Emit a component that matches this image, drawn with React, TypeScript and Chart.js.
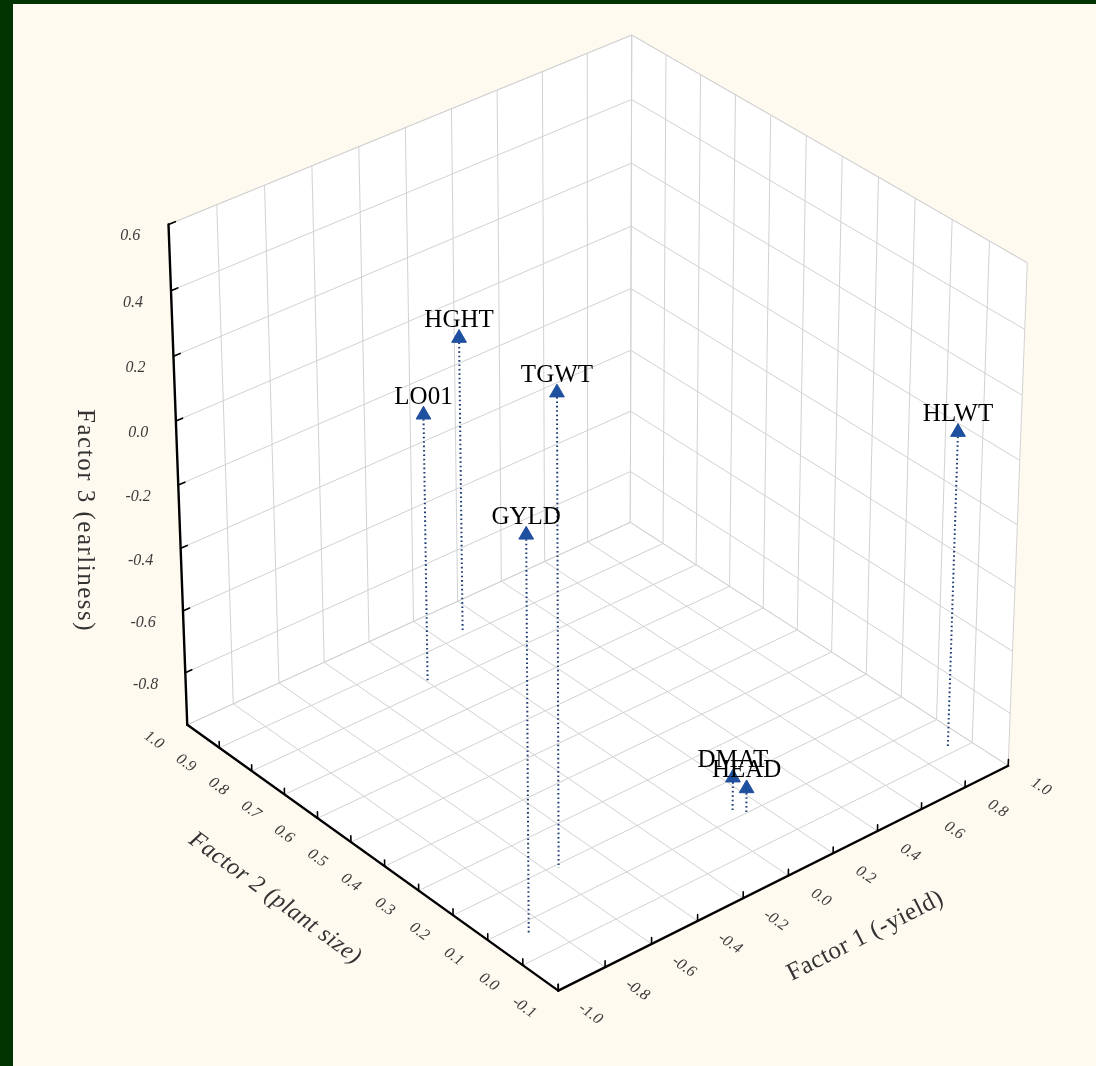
import React, { useEffect, useRef } from "react";
import { Chart, registerables } from "chart.js";

Chart.register(...registerables);

// ---------------- data ----------------
const variables = ["LO01", "HGHT", "TGWT", "GYLD", "HLWT", "DMAT", "HEAD"];
const factor1Values = [-0.2, 0.09, -0.56, -0.87, 0.92, 0.1, 0.13];
const factor2Values = [0.82, 0.91, 0.19, 0.07, 0.02, 0.12, 0.1];
const factor3Values = [-0.11, -0.02, 0.5, 0.26, 0.03, -0.86, -0.89];

const factor1Ticks = [-1.0, -0.8, -0.6, -0.4, -0.2, 0.0, 0.2, 0.4, 0.6, 0.8, 1.0];
const factor2Ticks = [-0.1, 0.0, 0.1, 0.2, 0.3, 0.4, 0.5, 0.6, 0.7, 0.8, 0.9, 1.0];
const factor3Ticks = [-0.8, -0.6, -0.4, -0.2, 0.0, 0.2, 0.4, 0.6];
const factor1Range = [-1.0, 1.0];
const factor2Range = [-0.1, 1.0];
const factor3Range = [-0.97, 0.6];

const factor1Title = "Factor 1 (-yield)";
const factor2Title = "Factor 2 (plant size)";
const factor3Title = "Factor 3 (earliness)";

// ---------------- layout / style ----------------
const PAGE_W = 1096;
const PAGE_H = 1066;
const VIEW = { azimuth: 40, elevation: 32.7, distance: 12, focal: 7150, cx: 596, cy: 500 };
const MARK_COLOR = "#1f4f9f";
const DROP_COLOR = "#1d3b73";
const GRID_COLOR = "#d2d2d2";
const AXIS_COLOR = "#000000";
const TICK_TEXT = "#3c3c3c";
const SERIF = '"Liberation Serif", "DejaVu Serif", serif';

const toRad = (d: number) => (d * Math.PI) / 180;
const cosA = Math.cos(toRad(VIEW.azimuth));
const sinA = Math.sin(toRad(VIEW.azimuth));
const cosE = Math.cos(toRad(VIEW.elevation));
const sinE = Math.sin(toRad(VIEW.elevation));

// perspective projection of normalized box coordinates (0..1 each)
function projectUnit(u: number, v: number, w: number) {
  const X = u - 0.5;
  const Y = v - 0.5;
  const Z = w - 0.5;
  const xc = X * cosA - Y * sinA;
  const h = X * sinA + Y * cosA;
  const yc = Z * cosE + h * sinE;
  const zc = VIEW.distance + h * cosE - Z * sinE;
  return { x: VIEW.cx + (VIEW.focal * xc) / zc, y: VIEW.cy - (VIEW.focal * yc) / zc };
}

const nu = (f1: number) => (f1 - factor1Range[0]) / (factor1Range[1] - factor1Range[0]);
const nv = (f2: number) => (f2 - factor2Range[0]) / (factor2Range[1] - factor2Range[0]);
const nw = (f3: number) => (f3 - factor3Range[0]) / (factor3Range[1] - factor3Range[0]);

function projectData(f1: number, f2: number, f3: number) {
  return projectUnit(nu(f1), nv(f2), nw(f3));
}

function makePx(chart: any) {
  const xs = chart.scales.x;
  const ys = chart.scales.y;
  return (u: number, v: number, w: number): [number, number] => {
    const p = projectUnit(u, v, w);
    return [xs.getPixelForValue(p.x), ys.getPixelForValue(p.y)];
  };
}

function line(ctx: CanvasRenderingContext2D, a: [number, number], b: [number, number]) {
  ctx.beginPath();
  ctx.moveTo(a[0], a[1]);
  ctx.lineTo(b[0], b[1]);
  ctx.stroke();
}

function text(
  ctx: CanvasRenderingContext2D,
  s: string,
  p: [number, number],
  angle: number,
  font: string,
  color: string,
  align: CanvasTextAlign = "center",
  spacing = "0px"
) {
  ctx.save();
  ctx.translate(p[0], p[1]);
  ctx.rotate(angle);
  ctx.font = font;
  (ctx as any).letterSpacing = spacing;
  ctx.fillStyle = color;
  ctx.textAlign = align;
  ctx.textBaseline = "middle";
  ctx.fillText(s, 0, 0);
  ctx.restore();
}

const boxPlugin = {
  id: "box3d",
  beforeDatasetsDraw(chart: any) {
    const ctx: CanvasRenderingContext2D = chart.ctx;
    const P = makePx(chart);
    ctx.save();

    // faces
    const faces: number[][][] = [
      [[0, 0, 0], [1, 0, 0], [1, 1, 0], [0, 1, 0]],
      [[0, 1, 0], [1, 1, 0], [1, 1, 1], [0, 1, 1]],
      [[1, 0, 0], [1, 1, 0], [1, 1, 1], [1, 0, 1]],
    ];
    ctx.fillStyle = "#ffffff";
    faces.forEach((f) => {
      ctx.beginPath();
      f.forEach((c, i) => {
        const p = P(c[0], c[1], c[2]);
        if (i === 0) ctx.moveTo(p[0], p[1]);
        else ctx.lineTo(p[0], p[1]);
      });
      ctx.closePath();
      ctx.fill();
    });

    // grid
    ctx.strokeStyle = GRID_COLOR;
    ctx.lineWidth = 1;
    const us = factor1Ticks.map(nu);
    const vs = factor2Ticks.map(nv);
    const ws = [0, ...factor3Ticks.map(nw), 1];
    us.forEach((u) => {
      line(ctx, P(u, 0, 0), P(u, 1, 0));
      line(ctx, P(u, 1, 0), P(u, 1, 1));
    });
    vs.forEach((v) => {
      line(ctx, P(0, v, 0), P(1, v, 0));
      line(ctx, P(1, v, 0), P(1, v, 1));
    });
    ws.forEach((w) => {
      line(ctx, P(0, 1, w), P(1, 1, w));
      line(ctx, P(1, 0, w), P(1, 1, w));
    });

    // axes
    ctx.strokeStyle = AXIS_COLOR;
    ctx.lineWidth = 2.4;
    ctx.lineCap = "round";
    line(ctx, P(0, 1, 0), P(0, 1, 1));
    line(ctx, P(0, 1, 0), P(0, 0, 0));
    line(ctx, P(0, 0, 0), P(1, 0, 0));
    ctx.lineWidth = 1.6;
    factor3Ticks.forEach((t) => line(ctx, P(0, 1, nw(t)), P(0.014, 1, nw(t))));
    factor2Ticks.forEach((t) => line(ctx, P(0, nv(t), 0), P(0, nv(t), 0.013)));
    factor1Ticks.forEach((t) => line(ctx, P(nu(t), 0, 0), P(nu(t), 0, 0.013)));

    // tick labels
    const tickFont = `italic 16px ${SERIF}`;
    factor3Ticks.forEach((t) => {
      text(ctx, t.toFixed(1), P(-0.058, 1, nw(t)), 0, tickFont, TICK_TEXT, "right");
    });
    const dirAngle = (a: [number, number], b: [number, number]) => Math.atan2(b[1] - a[1], b[0] - a[0]);
    factor2Ticks.forEach((t) => {
      const v = nv(t);
      const ang = dirAngle(P(0, v + 0.05, 0), P(0, v - 0.05, 0));
      text(ctx, t.toFixed(1), P(-0.072, v, 0), ang, tickFont, TICK_TEXT);
    });
    factor1Ticks.forEach((t) => {
      const u = nu(t);
      const ang = dirAngle(P(u, 0, 0), P(u, -0.1, 0));
      text(ctx, t.toFixed(1), P(u, -0.082, 0), ang, tickFont, TICK_TEXT);
    });

    // axis titles
    const f1a = dirAngle(P(0.45, -0.21, 0), P(0.55, -0.21, 0));
    text(ctx, factor1Title, P(0.485, -0.21, 0), f1a, `25px ${SERIF}`, "#333333", "center", "0.5px");
    const f2a = dirAngle(P(-0.2, 0.55, 0), P(-0.2, 0.45, 0));
    text(ctx, factor2Title, P(-0.197, 0.5, 0), f2a, `italic 24px ${SERIF}`, "#333333", "center", "0.5px");
    text(ctx, factor3Title, P(-0.195, 1, 0.5), Math.PI / 2, `25px ${SERIF}`, "#333333", "center", "1.5px");

    ctx.restore();
  },
  afterDatasetsDraw(chart: any) {
    const ctx: CanvasRenderingContext2D = chart.ctx;
    const meta = chart.getDatasetMeta(chart.data.datasets.length - 1);
    ctx.save();
    ctx.font = `25px ${SERIF}`;
    ctx.fillStyle = "#000000";
    ctx.textAlign = "center";
    ctx.textBaseline = "alphabetic";
    meta.data.forEach((el: any, i: number) => {
      ctx.fillText(variables[i], el.x, el.y - 11);
    });
    ctx.restore();
  },
};

export default function App() {
  const canvasRef = useRef<HTMLCanvasElement | null>(null);

  useEffect(() => {
    const canvas = canvasRef.current;
    if (!canvas) return;
    const pts = variables.map((_, i) => projectData(factor1Values[i], factor2Values[i], factor3Values[i]));
    const floorPts = variables.map((_, i) => projectData(factor1Values[i], factor2Values[i], factor3Range[0]));
    const drops = variables.map((name, i) => ({
      type: "line" as const,
      label: name,
      data: [pts[i], floorPts[i]],
      borderColor: DROP_COLOR,
      borderWidth: 2,
      borderDash: [1.6, 2.8],
      pointRadius: 0,
      fill: false,
      tension: 0,
      order: 2,
    }));
    const chart = new Chart(canvas, {
      type: "scatter",
      data: {
        datasets: [
          ...drops,
          {
            type: "scatter" as const,
            label: "Variables",
            data: pts,
            pointStyle: "triangle",
            pointRadius: 8.5,
            backgroundColor: MARK_COLOR,
            borderColor: MARK_COLOR,
            borderWidth: 1,
            order: 1,
          },
        ] as any,
      },
      options: {
        responsive: false,
        maintainAspectRatio: false,
        animation: false,
        devicePixelRatio: 1,
        events: [],
        layout: { padding: 0, autoPadding: false },
        plugins: { legend: { display: false }, tooltip: { enabled: false } },
        scales: {
          x: { type: "linear", min: 0, max: PAGE_W, display: false },
          y: { type: "linear", min: 0, max: PAGE_H, reverse: true, display: false },
        },
      },
      plugins: [boxPlugin],
    });
    return () => chart.destroy();
  }, []);

  return (
    <div style={{ position: "absolute", left: 0, top: 0, width: PAGE_W, height: PAGE_H, background: "#003300", overflow: "hidden" }}>
      <div style={{ position: "absolute", left: 13, top: 4, width: PAGE_W - 13, height: PAGE_H - 4, background: "#fffaf0" }} />
      <canvas
        ref={canvasRef}
        width={PAGE_W}
        height={PAGE_H}
        style={{ position: "absolute", left: 0, top: 0, width: PAGE_W, height: PAGE_H }}
      />
    </div>
  );
}
